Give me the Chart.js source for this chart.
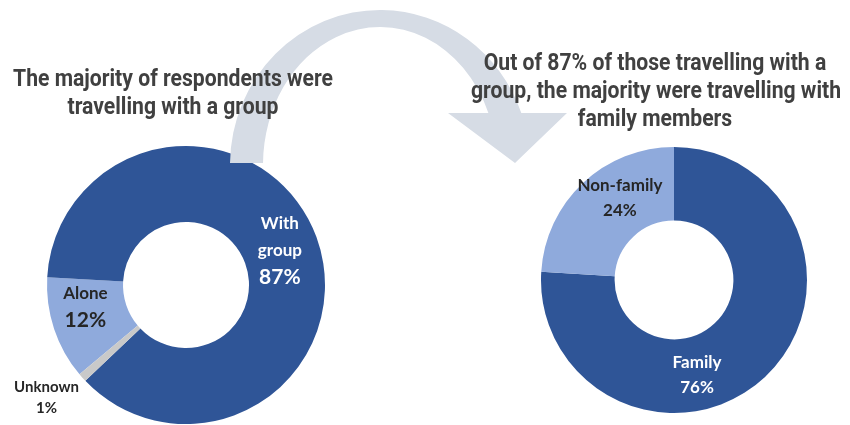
<!DOCTYPE html>
<html>
<head>
<meta charset="utf-8">
<script src="https://cdn.jsdelivr.net/npm/chart.js@4.4.1/dist/chart.umd.min.js"></script>
<style>
  html, body { margin: 0; padding: 0; background: #fff; }
  body { width: 850px; height: 425px; position: relative; overflow: hidden; }
  .wrap { position: absolute; }
  #groupWrap { left: 0; top: 135px; width: 372px; height: 300px; }
  #familyWrap { left: 524px; top: 130px; width: 300px; height: 300px; }
  #arrow { position: absolute; left: 0; top: 0; z-index: 2; }
  .title {
    position: absolute; z-index: 3;
    font-family: 'Roboto', sans-serif;
    font-weight: bold; font-size: 23px; line-height: 28px;
    color: #404040; text-align: center; white-space: nowrap;
    transform: scaleX(0.92); transform-origin: 50% 0;
  }
  #titleLeft { left: -2px; top: 65px; width: 350px; }
  #titleRight { left: 455px; top: 49px; width: 400px; }
</style>
</head>
<body>
<div class="wrap" id="groupWrap"><canvas id="groupChart"></canvas></div>
<div class="wrap" id="familyWrap"><canvas id="familyChart"></canvas></div>
<canvas id="arrow" width="850" height="425"></canvas>
<div class="title" id="titleLeft">The majority of respondents were<br>travelling with a group</div>
<div class="title" id="titleRight">Out of 87% of those travelling with a<br>group, the majority were travelling with<br>family members</div>

<script>
// travel party, all respondents
const groupLabels = [['Alone'], ['With', 'group'], ['Unknown']];
const groupValues = [12, 87, 1];

// of those travelling with a group
const familyLabels = [['Family'], ['Non-family']];
const familyValues = [76, 24];

const DARK = '#2F5597';
const LIGHT = '#8FAADC';
const GREY = '#C9C9C9';
const LABEL_FONT = "'Lato', 'Open Sans', sans-serif";

// names + percentages written inside / beside each slice
const sliceLabels = {
    id: 'sliceLabels',
    afterDatasetsDraw(chart, args, opts) {
        const ctx = chart.ctx;
        const meta = chart.getDatasetMeta(0);
        const values = chart.data.datasets[0].data;
        meta.data.forEach((arc, i) => {
            const p = opts.place[i];
            const a = (arc.startAngle + arc.endAngle) / 2 + p.shift * Math.PI / 180;
            const x = arc.x + Math.cos(a) * p.r;
            const y = arc.y + Math.sin(a) * p.r;
            const lines = chart.data.labels[i].map(t => ({ text: t, size: p.nameSize }));
            lines.push({ text: values[i] + '%', size: p.valueSize });
            ctx.save();
            ctx.fillStyle = p.color;
            ctx.textAlign = 'center';
            ctx.textBaseline = 'middle';
            lines.forEach((ln, k) => {
                ctx.font = 'bold ' + ln.size + 'px ' + LABEL_FONT;
                ctx.fillText(ln.text, x, y + (k - (lines.length - 1) / 2) * p.gap);
            });
            ctx.restore();
        });
    }
};

const baseOptions = {
    responsive: true,
    maintainAspectRatio: false,
    animation: false,
    events: [],
    plugins: { legend: { display: false }, tooltip: { enabled: false } }
};

new Chart(document.getElementById('groupChart'), {
    type: 'doughnut',
    plugins: [sliceLabels],
    data: {
        labels: groupLabels,
        datasets: [{
            data: groupValues,
            backgroundColor: [LIGHT, DARK, GREY],
            borderWidth: 0,
            hoverOffset: 0
        }]
    },
    options: {
        ...baseOptions,
        rotation: 230,
        radius: 139,
        cutout: 68,
        plugins: {
            ...baseOptions.plugins,
            sliceLabels: {
                place: [
                    { shift: 6, r: 103, nameSize: 17, valueSize: 21, gap: 27, color: '#262626' },
                    { shift: 0, r: 100, nameSize: 17, valueSize: 21, gap: 27, color: '#ffffff' },
                    { shift: 3, r: 179, nameSize: 15, valueSize: 15, gap: 21, color: '#262626' }
                ]
            }
        }
    }
});

new Chart(document.getElementById('familyChart'), {
    type: 'doughnut',
    plugins: [sliceLabels],
    data: {
        labels: familyLabels,
        datasets: [{
            data: familyValues,
            backgroundColor: [DARK, LIGHT],
            borderWidth: 0,
            hoverOffset: 0
        }]
    },
    options: {
        ...baseOptions,
        rotation: 0,
        radius: 133,
        cutout: 67,
        plugins: {
            ...baseOptions.plugins,
            sliceLabels: {
                place: [
                    { shift: 29.6, r: 98, nameSize: 17, valueSize: 17, gap: 25, color: '#ffffff' },
                    { shift: 9.7, r: 98, nameSize: 17, valueSize: 17, gap: 25, color: '#262626' }
                ]
            }
        }
    }
});

// curved connector arrow from the left ring to the right one
const g = document.getElementById('arrow').getContext('2d');
g.fillStyle = '#D6DCE5';
g.beginPath();
g.ellipse(380, 165, 150, 155, 0, Math.PI + 0.0129, 2 * Math.PI - 0.342, false);
g.lineTo(567, 113);
g.lineTo(515, 163);
g.lineTo(448, 113);
g.ellipse(380, 165, 117, 138, 0, 2 * Math.PI - 0.386, Math.PI + 0.0145, true);
g.closePath();
g.fill();
</script>
</body>
</html>
